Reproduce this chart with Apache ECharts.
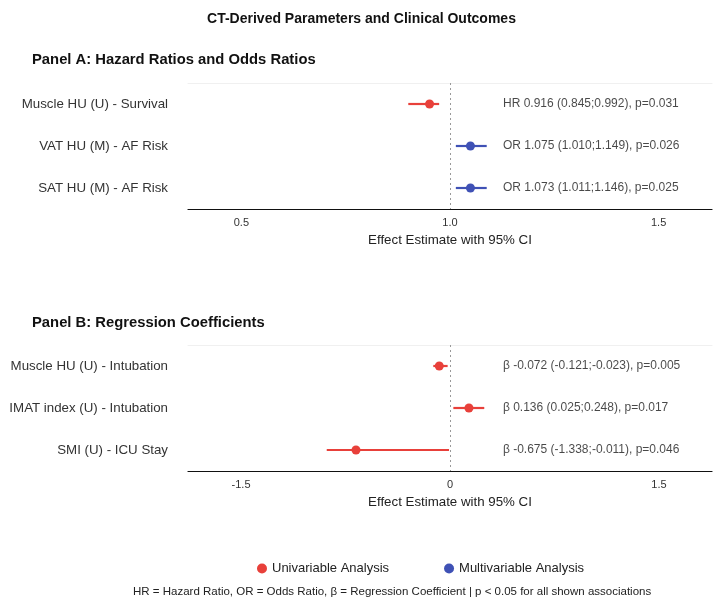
<!DOCTYPE html>
<html>
<head>
<meta charset="utf-8">
<script src="https://cdn.jsdelivr.net/npm/echarts@6/dist/echarts.min.js"></script>
<style>
  html, body { margin: 0; padding: 0; background: #fff; }
  #main { width: 723px; height: 606px; }
</style>
</head>
<body>
<div id="main"></div>
<script>
var chart = echarts.init(document.getElementById('main'))

// Panel A: hazard / odds ratios
var labelsA = ['Muscle HU (U) - Survival', 'VAT HU (M) - AF Risk', 'SAT HU (M) - AF Risk']
var estA = [0.951, 1.049, 1.049]
var loA = [0.900, 1.014, 1.014]
var hiA = [0.974, 1.088, 1.088]
var typeA = [0, 1, 1]   // 0 = univariable, 1 = multivariable
var textA = ['HR 0.916 (0.845;0.992), p=0.031', 'OR 1.075 (1.010;1.149), p=0.026', 'OR 1.073 (1.011;1.146), p=0.025']
var ticksA = [0.5, 1.0, 1.5]

// Panel B: regression coefficients
var labelsB = ['Muscle HU (U) - Intubation', 'IMAT index (U) - Intubation', 'SMI (U) - ICU Stay']
var estB = [-0.077, 0.136, -0.675]
var loB = [-0.120, 0.024, -0.885]
var hiB = [-0.017, 0.246, -0.007]
var typeB = [0, 0, 0]
var textB = ['β -0.072 (-0.121;-0.023), p=0.005', 'β 0.136 (0.025;0.248), p=0.017', 'β -0.675 (-1.338;-0.011), p=0.046']
var ticksB = [-1.5, 0, 1.5]

var colors = ['#E8403A', '#3F51B5']
var names = ['Univariable Analysis', 'Multivariable Analysis']
var font = 'Helvetica, Arial, sans-serif'

function ciData(lo, hi, type) {
    return lo.map(function (v, i) { return [v, hi[i], i, type[i]] })
}

function pointData(est, type, t) {
    var out = []
    est.forEach(function (v, i) {
        if (type[i] == t) out.push([v, i])
    })
    return out
}

function renderCI(params, api) {
    var y = api.value(2)
    var s = api.coord([api.value(0), y])
    var e = api.coord([api.value(1), y])
    return {
        type: 'line',
        shape: { x1: s[0], y1: s[1], x2: e[0], y2: e[1] },
        style: { stroke: colors[api.value(3)], lineWidth: 2.2 }
    }
}

function xAxisBottom(idx, min, max, ticks, fmt) {
    return {
        gridIndex: idx, type: 'value', min: min, max: max, position: 'bottom',
        axisLine: { show: true, lineStyle: { color: '#111', width: 1.2 } },
        axisTick: { show: false },
        splitLine: { show: false },
        axisLabel: { customValues: ticks, formatter: fmt, color: '#333', fontSize: 11, margin: 8, fontFamily: font },
        name: 'Effect Estimate with 95% CI', nameLocation: 'middle', nameGap: 25,
        nameTextStyle: { color: '#222', fontSize: 13.3, fontFamily: font }
    }
}

function xAxisTop(idx, min, max) {
    return {
        gridIndex: idx, type: 'value', min: min, max: max, position: 'top',
        axisLine: { show: true, lineStyle: { color: '#f0f0f0', width: 1 } },
        axisTick: { show: false }, axisLabel: { show: false }, splitLine: { show: false }
    }
}

function yAxis(idx, labels) {
    return {
        gridIndex: idx, type: 'category', data: labels, inverse: true,
        axisLine: { show: false }, axisTick: { show: false }, splitLine: { show: false },
        axisLabel: { color: '#333', fontSize: 13.3, margin: 20, fontFamily: font }
    }
}

function panelSeries(idx, est, lo, hi, type, text, ref, annotX) {
    var list = []
    list.push({
        name: 'ci' + idx, type: 'custom', xAxisIndex: idx * 2, yAxisIndex: idx,
        renderItem: renderCI, encode: { x: [0, 1], y: 2 },
        data: ciData(lo, hi, type), z: 2
    })
    ;[0, 1].forEach(function (t) {
        var d = pointData(est, type, t)
        if (d.length == 0) return
        list.push({
            name: names[t], type: 'scatter', xAxisIndex: idx * 2, yAxisIndex: idx,
            symbolSize: 9, itemStyle: { color: colors[t], opacity: 1 }, data: d, z: 3
        })
    })
    list.push({
        name: 'text' + idx, type: 'scatter', xAxisIndex: idx * 2, yAxisIndex: idx,
        symbolSize: 0, silent: true,
        data: text.map(function (s, i) { return [annotX, i] }),
        label: {
            show: true, position: 'right', distance: 0, color: '#1a1a1a', fontSize: 12, fontFamily: font,
            formatter: function (p) { return text[p.dataIndex] }
        },
        markLine: {
            silent: true, symbol: 'none', label: { show: false },
            lineStyle: { color: '#999', type: [2, 3], width: 1 },
            data: [{ xAxis: ref }]
        }
    })
    return list
}

var series = [].concat(
    panelSeries(0, estA, loA, hiA, typeA, textA, 1, 1.127),
    panelSeries(1, estB, loB, hiB, typeB, textB, 0, 0.38)
)

var option = {
    backgroundColor: '#fff',
    animation: false,
    title: [
        { text: 'CT-Derived Parameters and Clinical Outcomes', left: 'center', top: 7,
          textStyle: { fontSize: 14, fontWeight: 'bold', color: '#111', fontFamily: font } },
        { text: 'Panel A: Hazard Ratios and Odds Ratios', left: 27, top: 47,
          textStyle: { fontSize: 14.8, fontWeight: 'bold', color: '#111', fontFamily: font } },
        { text: 'Panel B: Regression Coefficients', left: 27, top: 310,
          textStyle: { fontSize: 14.8, fontWeight: 'bold', color: '#111', fontFamily: font } },
        { text: 'HR = Hazard Ratio, OR = Odds Ratio, β = Regression Coefficient | p < 0.05 for all shown associations',
          left: 128, top: 581,
          textStyle: { fontSize: 11.5, fontWeight: 'normal', color: '#222', fontFamily: font } }
    ],
    legend: {
        data: names,
        left: 252, top: 557, icon: 'circle', itemWidth: 10, itemHeight: 10, itemGap: 55,
        textStyle: { fontSize: 13, color: '#222', fontFamily: font }
    },
    grid: [
        { left: 188, right: 11, top: 83, height: 126 },
        { left: 188, right: 11, top: 345, height: 126 }
    ],
    xAxis: [
        xAxisBottom(0, 0.372, 1.628, ticksA, function (v) { return v.toFixed(1) }),
        xAxisTop(0, 0.372, 1.628),
        xAxisBottom(1, -1.881, 1.881, ticksB, function (v) { return String(v) }),
        xAxisTop(1, -1.881, 1.881)
    ],
    yAxis: [yAxis(0, labelsA), yAxis(1, labelsB)],
    series: series
}

chart.setOption(option, true)
</script>
</body>
</html>
